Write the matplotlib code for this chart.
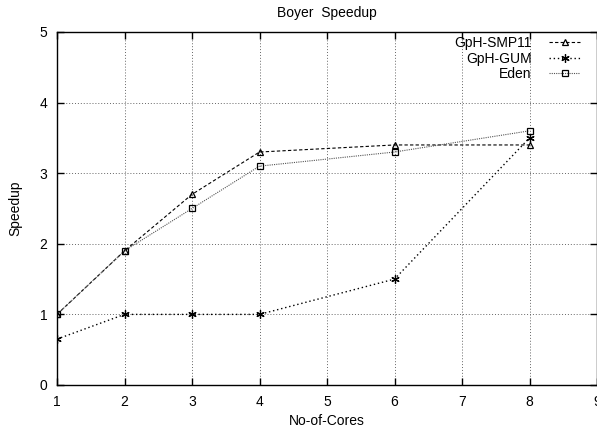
import matplotlib
matplotlib.use("Agg")
import matplotlib.pyplot as plt

plt.rcParams["font.family"] = ["Liberation Sans", "DejaVu Sans"]

# Data
cores = [1, 2, 3, 4, 6, 8]
gph_smp11 = [1.0, 1.9, 2.7, 3.3, 3.4, 3.4]
gph_gum = [0.65, 1.0, 1.0, 1.0, 1.5, 3.5]
eden = [1.0, 1.9, 2.5, 3.1, 3.3, 3.6]

x_ticks = [1, 2, 3, 4, 5, 6, 7, 8, 9]
y_ticks = [0, 1, 2, 3, 4, 5]

fig = plt.figure(figsize=(5.97, 4.29), dpi=100)
ax = fig.add_axes([57 / 597, 1 - 385 / 429, 540 / 597, (385 - 32) / 429])

ax.plot(cores, gph_smp11, color="black", linestyle=(0, (3, 2)), linewidth=0.8,
        marker="^", markersize=5, markerfacecolor="none", markeredgewidth=0.9,
        label="GpH-SMP11")
ax.plot(cores, gph_gum, color="black", linestyle=(0, (1, 2)), linewidth=1.0,
        marker=(6, 2, 0), markersize=6, markeredgewidth=0.9,
        label="GpH-GUM")
ax.plot(cores, eden, color="#555555", linestyle=(0, (1, 1)), linewidth=0.8,
        marker="s", markersize=5, markerfacecolor="none", markeredgecolor="black",
        markeredgewidth=0.9, label="Eden")

ax.set_xlim(1, 9)
ax.set_ylim(0, 5)
ax.set_xticks(x_ticks)
ax.set_yticks(y_ticks)
ax.grid(True, color="#666666", linestyle=(0, (1, 2)), linewidth=0.7)
ax.tick_params(direction="in", length=5, width=1, labelsize=10, top=True, right=True, pad=7)
for s in ax.spines.values():
    s.set_linewidth(1.0)

ax.set_xlabel("No-of-Cores", fontsize=10, labelpad=4)
ax.set_ylabel("Speedup", fontsize=10, labelpad=12)
ax.set_title("Boyer  Speedup", fontsize=10, pad=11)

# legend text sits right-aligned, samples to its right (gnuplot style)
leg = ax.legend(loc="upper right", bbox_to_anchor=(0.9685, 0.988), markerfirst=False,
                frameon=False, fontsize=10, handlelength=2.2, handletextpad=1.3,
                labelspacing=0.1, borderaxespad=0, borderpad=0)
for t in leg.get_texts():
    t.set_ha("right")

fig.savefig("out.png", dpi=100)
